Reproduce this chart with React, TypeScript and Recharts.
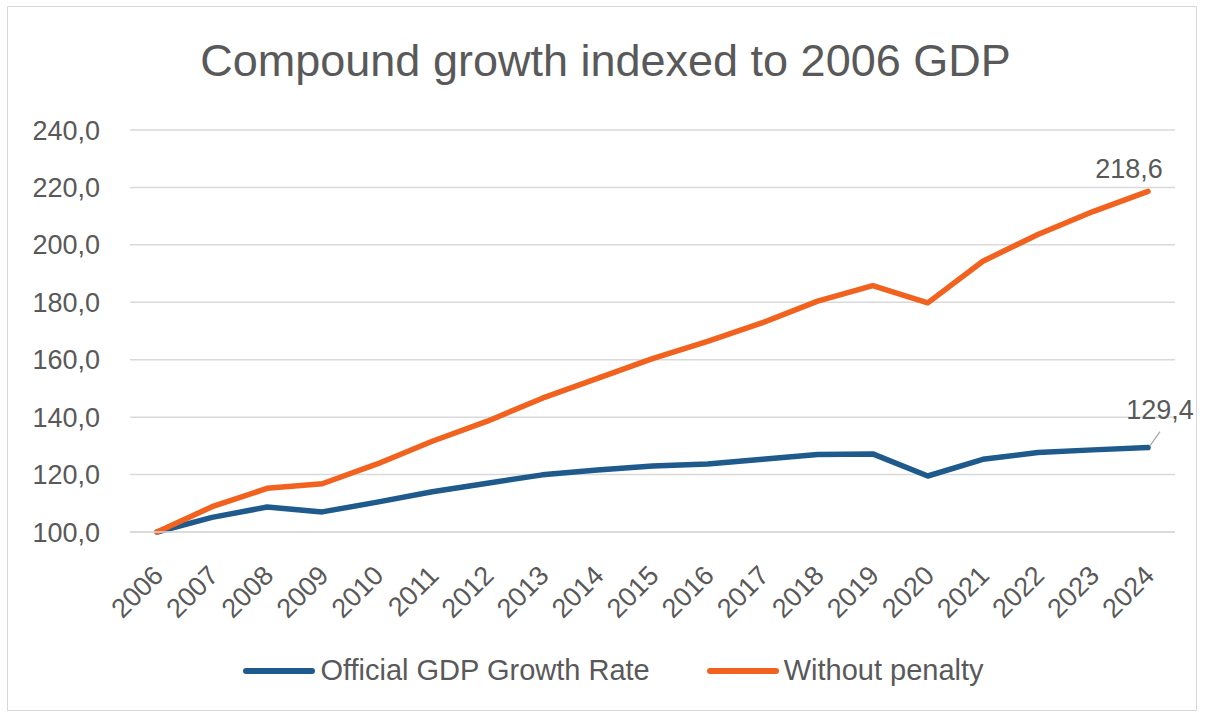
import React from "react";
import { LineChart, Line, XAxis, YAxis, CartesianGrid } from "recharts";

const years = ["2006","2007","2008","2009","2010","2011","2012","2013","2014","2015","2016","2017","2018","2019","2020","2021","2022","2023","2024"];
const official = [100, 105.1, 108.7, 107.0, 110.4, 114.0, 117.0, 119.9, 121.6, 123.0, 123.7, 125.3, 127.0, 127.2, 119.5, 125.3, 127.7, 128.6, 129.4];
const withoutPenalty = [100, 108.8, 115.2, 116.8, 123.7, 131.6, 138.6, 146.6, 153.5, 160.4, 166.4, 172.9, 180.4, 185.8, 179.8, 194.3, 203.6, 211.6, 218.6];
const yTicks = [100, 120, 140, 160, 180, 200, 220, 240];

const series = [
  { key: "official", name: "Official GDP Growth Rate", color: "#1f5a8c" },
  { key: "without", name: "Without penalty", color: "#f2621f" },
];

const data = years.map((y, i) => ({ year: y, official: official[i], without: withoutPenalty[i] }));

const fmt = (v: number) => v.toFixed(1).replace(".", ",");
const FONT = "'Liberation Sans', Arial, sans-serif";
const TEXT = "#595959";

const XTick = (props: any) => {
  const { x, payload } = props;
  return (
    <text
      x={x + 8}
      y={577}
      transform={`rotate(-45, ${x + 8}, 577)`}
      textAnchor="end"
      fontSize={27}
      fontFamily={FONT}
      fill={TEXT}
    >
      {payload.value}
    </text>
  );
};

const lastIdx = years.length - 1;

const orangeLabel = (props: any) => {
  const { x, y, index, value } = props;
  if (index !== lastIdx) return null;
  return (
    <text x={x - 19} y={y - 13} textAnchor="middle" fontSize={27} fontFamily={FONT} fill={TEXT}>
      {fmt(Number(value))}
    </text>
  );
};

const blueLabel = (props: any) => {
  const { x, y, index, value } = props;
  if (index !== lastIdx) return null;
  return (
    <g>
      <line x1={x + 2} y1={y - 2} x2={x + 12} y2={y - 16} stroke="#a6a6a6" strokeWidth={1.2} />
      <text x={x + 12} y={y - 29} textAnchor="middle" fontSize={27} fontFamily={FONT} fill={TEXT}>
        {fmt(Number(value))}
      </text>
    </g>
  );
};

export default function App() {
  return (
    <div style={{ position: "absolute", left: 0, top: 0, width: 1205, height: 715, background: "#fff" }}>
      <div
        style={{
          position: "absolute",
          left: 7,
          top: 6,
          width: 1190,
          height: 705,
          border: "1.5px solid #d9d9d9",
          boxSizing: "border-box",
        }}
      />
      <div
        style={{
          position: "absolute",
          left: 3,
          top: 33,
          width: 1205,
          textAlign: "center",
          fontFamily: FONT,
          fontSize: 45,
          color: TEXT,
          lineHeight: "56px",
        }}
      >
        Compound growth indexed to 2006 GDP
      </div>
      <div style={{ position: "absolute", left: 0, top: 0 }}>
        <LineChart width={1205} height={715} data={data} margin={{ top: 130, right: 30, left: 0, bottom: 0 }}>
          <CartesianGrid vertical={false} stroke="#d9d9d9" strokeWidth={1.5} />
          <XAxis
            dataKey="year"
            height={183}
            padding={{ left: 27, right: 27 }}
            axisLine={{ stroke: "#d9d9d9", strokeWidth: 1.5 }}
            tickLine={false}
            interval={0}
            tick={<XTick />}
          />
          <YAxis
            domain={[100, 240]}
            ticks={yTicks}
            width={130}
            axisLine={false}
            tickLine={false}
            tickSize={0}
            tickMargin={30}
            tickFormatter={(v: number) => fmt(v)}
            tick={{ fontSize: 27, fontFamily: FONT, fill: TEXT }}
          />
          <Line
            type="linear"
            dataKey="official"
            name={series[0].name}
            stroke={series[0].color}
            strokeWidth={5.5}
            dot={false}
            strokeLinejoin="round"
            strokeLinecap="round"
            isAnimationActive={false}
            label={blueLabel}
          />
          <Line
            type="linear"
            dataKey="without"
            name={series[1].name}
            stroke={series[1].color}
            strokeWidth={5.5}
            dot={false}
            strokeLinejoin="round"
            strokeLinecap="round"
            isAnimationActive={false}
            label={orangeLabel}
          />
        </LineChart>
      </div>
      <div
        style={{
          position: "absolute",
          left: 0,
          top: 654,
          width: 1205,
          display: "flex",
          justifyContent: "center",
          alignItems: "center",
          fontFamily: FONT,
          fontSize: 29,
          color: TEXT,
          gap: 56,
          paddingLeft: 21,
          boxSizing: "border-box",
        }}
      >
        {series.map((s) => (
          <div key={s.key} style={{ display: "flex", alignItems: "center" }}>
            <svg width={74} height={10} style={{ marginRight: 4 }}>
              <line x1={4} y1={5} x2={70} y2={5} stroke={s.color} strokeWidth={6} strokeLinecap="round" />
            </svg>
            <span>{s.name}</span>
          </div>
        ))}
      </div>
    </div>
  );
}
